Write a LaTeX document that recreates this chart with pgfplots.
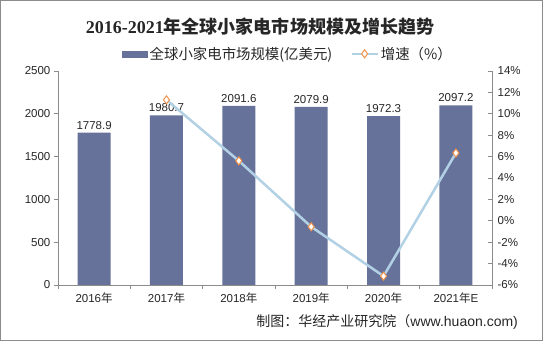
\documentclass[border=0pt]{standalone}
\usepackage{pgfplots}
\pgfplotsset{compat=1.18}
\usepackage{fontspec}
\setmainfont{Liberation Sans}
\newfontfamily\cjk{Noto Sans CJK SC}
\newfontfamily\tserif{Liberation Serif}
\definecolor{barcol}{HTML}{67729A}
\definecolor{linecol}{HTML}{B2D1E5}
\definecolor{mkcol}{HTML}{F0924A}
\definecolor{axcol}{HTML}{8C8C8C}
\definecolor{txtcol}{HTML}{262626}
\begin{document}
\begin{tikzpicture}
\begin{axis}[
  name=ax,
  at={(0pt,0pt)}, anchor=south west, scale only axis, width=434pt, height=214pt,
  clip=false,
  xmin=-0.5, xmax=5.5, ymin=0, ymax=2500,
  ytick={0,500,...,2500},
  xtick={0,...,5},
  xticklabels={2016{\cjk 年},2017{\cjk 年},2018{\cjk 年},2019{\cjk 年},2020{\cjk 年},2021{\cjk 年}E},
  minor xtick={-0.5,0.5,...,5.5},
  axis x line*=bottom, axis y line*=left,
  axis line style={axcol, line width=0.8pt, -},
  tick style={axcol, line width=0.8pt},
  major x tick style={draw=none},
  tick align=outside,
  major tick length=4pt, minor tick length=4pt,
  tick label style={font=\fontsize{11.5}{13}\selectfont, text=txtcol},
  /pgf/number format/assume math mode=true,
  /pgf/number format/1000 sep={},
  scaled y ticks=false,
  ybar, bar width=33pt,
  nodes near coords,
  nodes near coords style={font=\fontsize{11.5}{13}\selectfont, text=txtcol, /pgf/number format/.cd, fixed, fixed zerofill, precision=1, 1000 sep={}, assume math mode=true},
]
\addplot[fill=barcol, draw=none] coordinates {(0,1778.9) (1,1980.7) (2,2091.6) (3,2079.9) (4,1972.3) (5,2097.2)};
\draw[axcol, line width=0.8pt] ([xshift=-57.5pt,yshift=-55.5pt]rel axis cs:0,0) rectangle ([xshift=50.5pt,yshift=70.5pt]rel axis cs:1,1);
\node[text=txtcol] at ([xshift=202pt,yshift=44pt]rel axis cs:0,1) {\fontsize{18}{21}\selectfont\tserif\bfseries 2016-2021\cjk\bfseries 年全球小家电市场规模及增长趋势};
\node[anchor=east, text=txtcol, inner sep=0pt] at ([xshift=26pt,yshift=-37pt]rel axis cs:1,0) {\fontsize{14}{16}\selectfont{\cjk 制图：华经产业研究院（}www.huaon.com)};
\end{axis}
\begin{axis}[
  at={(ax.south west)}, anchor=south west, scale only axis, width=434pt, height=214pt,
  xmin=-0.5, xmax=5.5, ymin=-6, ymax=14,
  ytick={-6,-4,...,14},
  axis y line*=right, axis x line=none,
  axis line style={axcol, line width=0.8pt, -},
  tick style={axcol, line width=0.8pt},
  tick align=inside, major tick length=4pt,
  yticklabel={\pgfmathprintnumber{\tick}\%},
  yticklabel style={xshift=2pt},
  tick label style={font=\fontsize{11.5}{13}\selectfont, text=txtcol},
  /pgf/number format/assume math mode=true,
  legend columns=2,
  legend style={draw=none, fill=none, at={(0.53,1)}, anchor=south, yshift=6pt, font=\fontsize{14.4}{16}\selectfont, text=txtcol, /tikz/every even column/.append style={column sep=16pt}},
]
\addlegendimage{legend image code/.code={\fill[barcol] (0pt,-3pt) rectangle (25pt,3pt);}}
\addlegendentry{\cjk 全球小家电市场规模(亿美元)}
\addplot[linecol, line width=2.5pt, mark=diamond*, mark size=4pt, mark options={fill=white, draw=mkcol, line width=1pt},
  legend image code/.code={\draw[mark repeat=2,mark phase=2, line width=2.5pt] plot coordinates {(0pt,0pt)(13pt,0pt)(26pt,0pt)};}]
  coordinates {(1,11.3) (2,5.6) (3,-0.56) (4,-5.17) (5,6.33)};
\addlegendentry{\cjk 增速（\%）}
\end{axis}
\end{tikzpicture}
\end{document}
